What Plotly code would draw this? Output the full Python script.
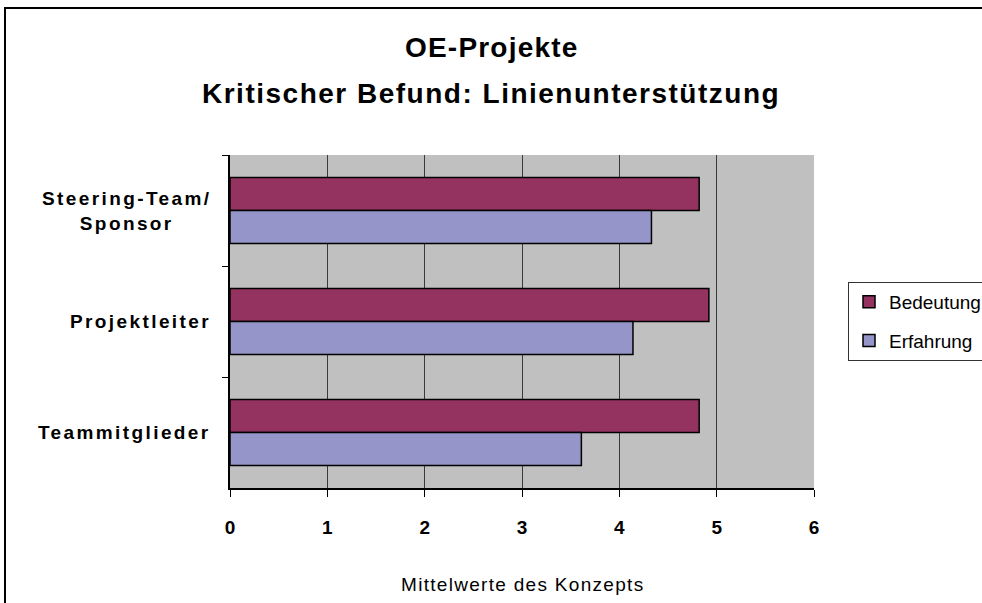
import plotly.graph_objects as go

categories = ["Steering-Team/<br>Sponsor", "Projektleiter", "Teammitglieder"]
bedeutung = [4.82, 4.92, 4.82]
erfahrung = [4.33, 4.14, 3.61]
series_names = ["Bedeutung", "Erfahrung"]
x_ticks = [0, 1, 2, 3, 4, 5, 6]
title_lines = ["OE-Projekte", "Kritischer Befund: Linienunterstützung"]
x_title = "Mittelwerte des Konzepts"

FONT = "Liberation Sans, Arial, sans-serif"
W, H = 982, 603
L, R, T, B = 230, 168, 155, 115
PW, PH = W - L - R, H - T - B

def px_x(p):
    return (p - L) / PW

def px_y(p):
    return (H - B - p) / PH

def spaced(text, ls):
    return "<br>".join(
        '<span style="letter-spacing:%spx">%s</span>' % (ls, part)
        for part in text.split("<br>")
    )

fig = go.Figure()
fig.add_trace(go.Bar(
    y=categories, x=bedeutung, name=series_names[0], orientation="h",
    marker=dict(color="#953360", line=dict(color="black", width=1.5)),
    legendgroup="a",
))
fig.add_trace(go.Bar(
    y=categories, x=erfahrung, name=series_names[1], orientation="h",
    marker=dict(color="#9595C9", line=dict(color="black", width=1.5)),
    legendgroup="b",
))

annotations = []
for cat in categories:
    annotations.append(dict(
        x=0, xref="paper", xanchor="right", xshift=-17,
        y=cat, yref="y", yanchor="middle",
        text=spaced(cat, 2.4), showarrow=False, align="center",
        font=dict(family=FONT, size=19, color="black", weight="bold"),
    ))
annotations.append(dict(
    x=px_x(491), xref="paper", xanchor="center", y=px_y(47), yref="paper", yanchor="middle",
    text=spaced(title_lines[0], 1.2), showarrow=False,
    font=dict(family=FONT, size=28, color="black", weight="bold"),
))
annotations.append(dict(
    x=px_x(491), xref="paper", xanchor="center", y=px_y(93), yref="paper", yanchor="middle",
    text=spaced(title_lines[1], 1.5), showarrow=False,
    font=dict(family=FONT, size=28, color="black", weight="bold"),
))
annotations.append(dict(
    x=0.5, xref="paper", xanchor="center", y=px_y(584), yref="paper", yanchor="middle",
    text=spaced(x_title, 1.3), showarrow=False,
    font=dict(family=FONT, size=19, color="black"),
))

fig.update_layout(
    width=W, height=H,
    margin=dict(l=L, r=R, t=T, b=B, autoexpand=False),
    paper_bgcolor="white",
    plot_bgcolor="#C0C0C0",
    barmode="group",
    bargap=0.405,
    bargroupgap=0,
    showlegend=True,
    legend=dict(
        x=px_x(848), y=px_y(282), xanchor="left", yanchor="top",
        bgcolor="white", bordercolor="#333333", borderwidth=1,
        font=dict(family=FONT, size=19, color="black"),
        tracegroupgap=11, traceorder="grouped", itemwidth=30,
    ),
    annotations=annotations,
    shapes=[dict(
        type="rect", xref="paper", yref="paper",
        x0=px_x(5), x1=px_x(995), y0=px_y(615), y1=px_y(8),
        line=dict(color="black", width=2), fillcolor="rgba(0,0,0,0)", layer="above",
    )],
    font=dict(family=FONT, color="black"),
)
fig.update_xaxes(
    range=[0, 6], tickvals=x_ticks, ticktext=[str(v) for v in x_ticks],
    showgrid=True, gridcolor="#3a3a3a", gridwidth=1,
    showline=True, linecolor="black", linewidth=1.5,
    ticks="outside", ticklen=7, tickcolor="black", tickwidth=1,
    tickfont=dict(family=FONT, size=19, color="black", weight="bold"),
    ticklabelstandoff=14,
    zeroline=False,
)
fig.update_yaxes(
    autorange="reversed", showticklabels=False,
    showgrid=False, showline=True, linecolor="black", linewidth=1.5,
    ticks="outside", tickson="boundaries", ticklen=6, tickcolor="black",
    zeroline=False,
)

fig.write_html(
    "out.html",
    config={"displayModeBar": False},
    post_script="document.body.style.margin='0';document.body.style.overflow='hidden';",
)
